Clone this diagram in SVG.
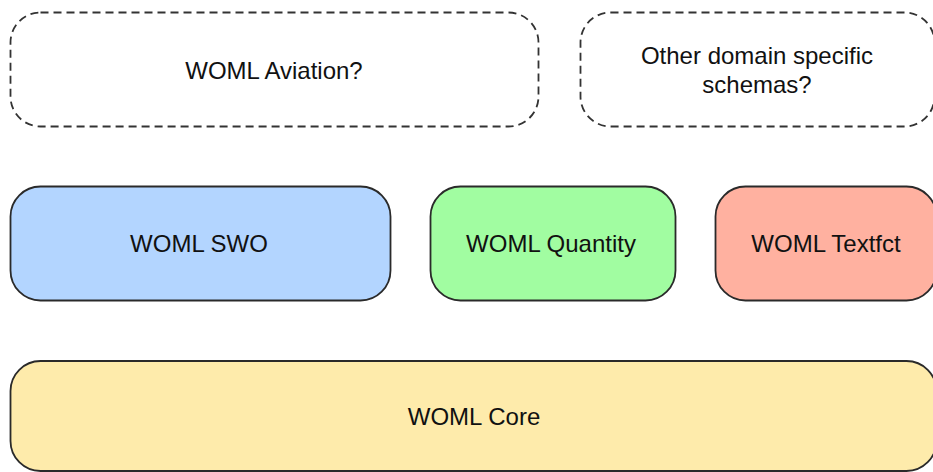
<svg xmlns="http://www.w3.org/2000/svg" width="933" height="472" viewBox="0 0 933 472">
<style>
.box{stroke:#2a2a2a;stroke-width:1.8}
.dash{fill:#fff;stroke:#333;stroke-width:1.8;stroke-dasharray:8 5}
text{font-family:"Liberation Sans",Arial,sans-serif;font-size:24px;fill:#111;text-anchor:middle;dominant-baseline:central}
</style>
<rect width="933" height="472" fill="#fff"/>
<g id="aviation"><rect class="dash" x="10.5" y="12.5" width="528" height="114" rx="30"/><text x="274" y="70">WOML Aviation?</text></g>
<g id="other"><rect class="dash" x="580.5" y="12.5" width="354" height="114" rx="30"/><text x="757" y="55">Other domain specific</text><text x="757" y="84">schemas?</text></g>
<g id="swo"><rect class="box" x="10.5" y="186.5" width="380" height="114" rx="30" fill="#b3d5ff"/><text x="199" y="243">WOML SWO</text></g>
<g id="quantity"><rect class="box" x="430.5" y="186.5" width="245" height="114" rx="30" fill="#a1fda1"/><text x="551" y="243">WOML Quantity</text></g>
<g id="textfct"><rect class="box" x="715.5" y="186.5" width="221" height="114" rx="30" fill="#ffb1a0"/><text x="826" y="243">WOML Textfct</text></g>
<g id="core"><rect class="box" x="10.5" y="361" width="926" height="110" rx="30" fill="#feebab"/><text x="474" y="416">WOML Core</text></g>
<g id="connectors"></g>
</svg>
